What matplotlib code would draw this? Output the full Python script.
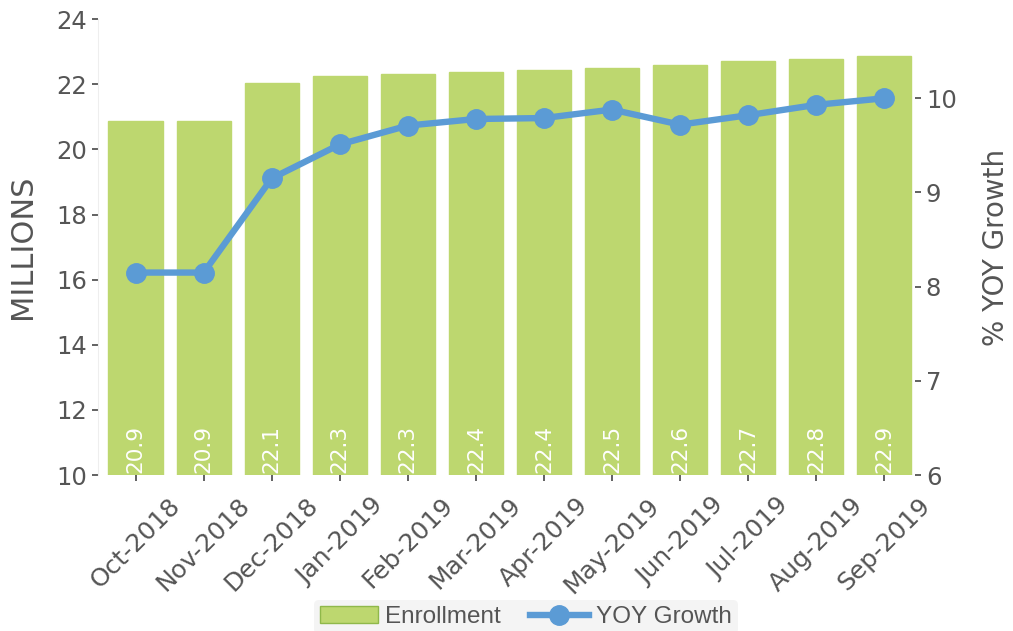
import matplotlib
matplotlib.use("Agg")
import matplotlib.pyplot as plt

# данные с графика
months = ['Oct-2018', 'Nov-2018', 'Dec-2018', 'Jan-2019', 'Feb-2019', 'Mar-2019',
          'Apr-2019', 'May-2019', 'Jun-2019', 'Jul-2019', 'Aug-2019', 'Sep-2019']
enrollment = [20.9, 20.9, 22.1, 22.3, 22.3, 22.4, 22.4, 22.5, 22.6, 22.7, 22.8, 22.9]
enroll_height = [20.86, 20.88, 22.04, 22.26, 22.31, 22.37, 22.43, 22.51, 22.60, 22.70, 22.79, 22.88]
yoy_growth = [8.15, 8.15, 9.15, 9.51, 9.71, 9.78, 9.79, 9.88, 9.72, 9.82, 9.93, 10.0]

bar_color = '#bdd76f'
line_color = '#5b9bd5'
text_color = '#555555'

fig = plt.figure(figsize=(10.13, 6.31), dpi=100)
ax = fig.add_axes([0.097, 0.247, 0.806, 0.7227])
ax2 = ax.twinx()

x = list(range(len(months)))
bars = ax.bar(x, [h - 10 for h in enroll_height], bottom=10, width=0.8,
              color=bar_color, edgecolor=bar_color, label='Enrollment', zorder=2)
for xi, val in zip(x, enrollment):
    ax.text(xi, 10.08, f'{val:.1f}', rotation=90, ha='center', va='bottom',
            color='white', fontsize=15.5, zorder=3)

line, = ax2.plot(x, yoy_growth, color=line_color, lw=4.6, marker='o', ms=14,
                 label='YOY Growth', zorder=4)

ax.set_xlim(-0.55, 11.45)
ax.set_ylim(10, 24)
ax.set_yticks(range(10, 25, 2))
ax2.set_ylim(6, 10.84)
ax2.set_yticks(range(6, 11))

ax.set_xticks(x)
ax.set_xticklabels(months, rotation=45, ha='center')
ax.set_ylabel('MILLIONS', fontsize=22, color=text_color, labelpad=14)
ax2.set_ylabel('% YOY Growth', fontsize=20, color=text_color, labelpad=18)

for a in (ax, ax2):
    for s in a.spines.values():
        s.set_visible(False)
    a.tick_params(colors=text_color, labelsize=17.5, length=4, width=1.3, pad=4)
ax.tick_params(axis='x', labelsize=18, pad=9)
ax.spines['left'].set_visible(True)
ax.spines['left'].set_color('#eeeeee')

ax2.set_zorder(ax.get_zorder() + 1)
ax2.patch.set_visible(False)

leg = fig.legend([bars, line], ['Enrollment', 'YOY Growth'], loc='upper center',
                 bbox_to_anchor=(0.519, 0.049), ncol=2, frameon=True,
                 prop={'family': 'Liberation Sans', 'size': 17.5},
                 handlelength=2.4, columnspacing=1.2, borderpad=0.25,
                 handletextpad=0.3, borderaxespad=0)
leg.get_frame().set_facecolor('#f4f4f4')
leg.get_frame().set_edgecolor('none')
leg.get_frame().set_alpha(1)
leg.legend_handles[0].set_edgecolor('#8fb84a')
for t in leg.get_texts():
    t.set_color(text_color)

fig.savefig('out.png', dpi=100)
